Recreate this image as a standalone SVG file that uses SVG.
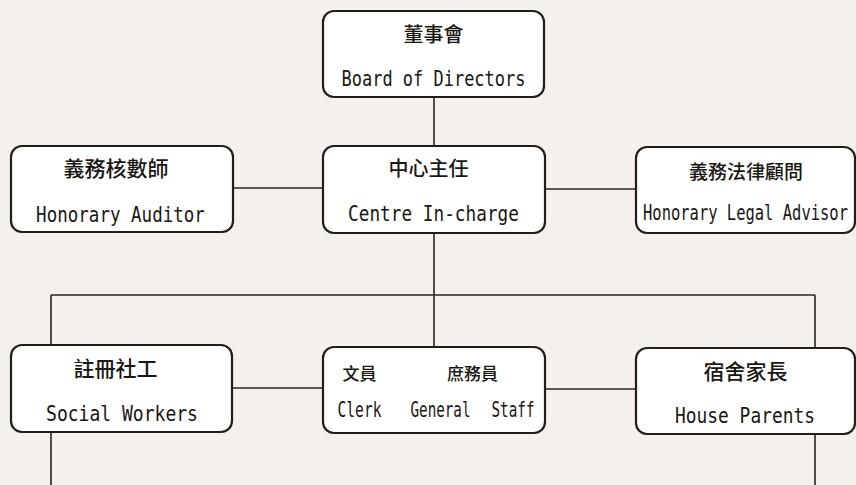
<svg xmlns="http://www.w3.org/2000/svg" width="856" height="485" viewBox="0 0 856 485">
<style>
.bg{fill:#f4f1ec}
.box{fill:#ffffff;stroke:#221d1a;stroke-width:2.2}
.ln{fill:none;stroke:#2a2420;stroke-width:1.6}
.zh{font-family:"Noto Sans CJK TC","Noto Sans CJK SC",sans-serif;fill:#1a1614;text-anchor:middle;font-weight:500}
.en{font-family:"DejaVu Sans Mono","Liberation Mono",monospace;font-size:21px;fill:#1a1614;text-anchor:middle}
</style>
<rect class="bg" x="0" y="0" width="856" height="485"/>
<g id="connectors">
<path class="ln" d="M434 97V146"/>
<path class="ln" d="M233 188H323"/>
<path class="ln" d="M545 189H635"/>
<path class="ln" d="M434 233V347"/>
<path class="ln" d="M51 295H815"/>
<path class="ln" d="M51 295V345M51 432V485"/>
<path class="ln" d="M815 295V348M815 434V485"/>
<path class="ln" d="M232 388H323"/>
<path class="ln" d="M545 389H635"/>
</g>
<g id="board">
<rect class="box" x="323" y="11" width="221" height="86" rx="11"/>
<text class="zh" x="433.5" y="42" font-size="20">董事會</text>
<text class="en" transform="translate(433.5 86) scale(0.808 1)">Board of Directors</text>
</g>
<g id="auditor">
<rect class="box" x="11" y="146" width="222" height="86" rx="11"/>
<text class="zh" x="116" y="176" font-size="21">義務核數師</text>
<text class="en" transform="translate(120.5 222) scale(0.835 1)">Honorary Auditor</text>
</g>
<g id="centre">
<rect class="box" x="323" y="146" width="222" height="87" rx="11"/>
<text class="zh" x="428.5" y="176" font-size="20">中心主任</text>
<text class="en" transform="translate(433.5 221) scale(0.845 1)">Centre In-charge</text>
</g>
<g id="legal">
<rect class="box" x="636" y="147" width="219" height="86" rx="11"/>
<text class="zh" x="746" y="179" font-size="19">義務法律顧問</text>
<text class="en" transform="translate(745.5 220) scale(0.737 1)">Honorary Legal Advisor</text>
</g>
<g id="social">
<rect class="box" x="11" y="345" width="221" height="87" rx="11"/>
<text class="zh" x="115.5" y="376" font-size="21">註冊社工</text>
<text class="en" transform="translate(122 421) scale(0.859 1)">Social Workers</text>
</g>
<g id="clerk">
<rect class="box" x="323" y="347" width="222" height="86" rx="11"/>
<text class="zh" x="359.5" y="380" font-size="17">文員</text>
<text class="zh" x="472.5" y="380" font-size="17">庶務員</text>
<text class="en" transform="translate(359.5 417) scale(0.696 1)">Clerk</text>
<text class="en" transform="translate(440.5 417) scale(0.678 1)">General</text>
<text class="en" transform="translate(513 417) scale(0.68 1)">Staff</text>
</g>
<g id="house">
<rect class="box" x="636" y="348" width="219" height="86" rx="11"/>
<text class="zh" x="745.5" y="379" font-size="21">宿舍家長</text>
<text class="en" transform="translate(745 423) scale(0.852 1)">House Parents</text>
</g>
</svg>
